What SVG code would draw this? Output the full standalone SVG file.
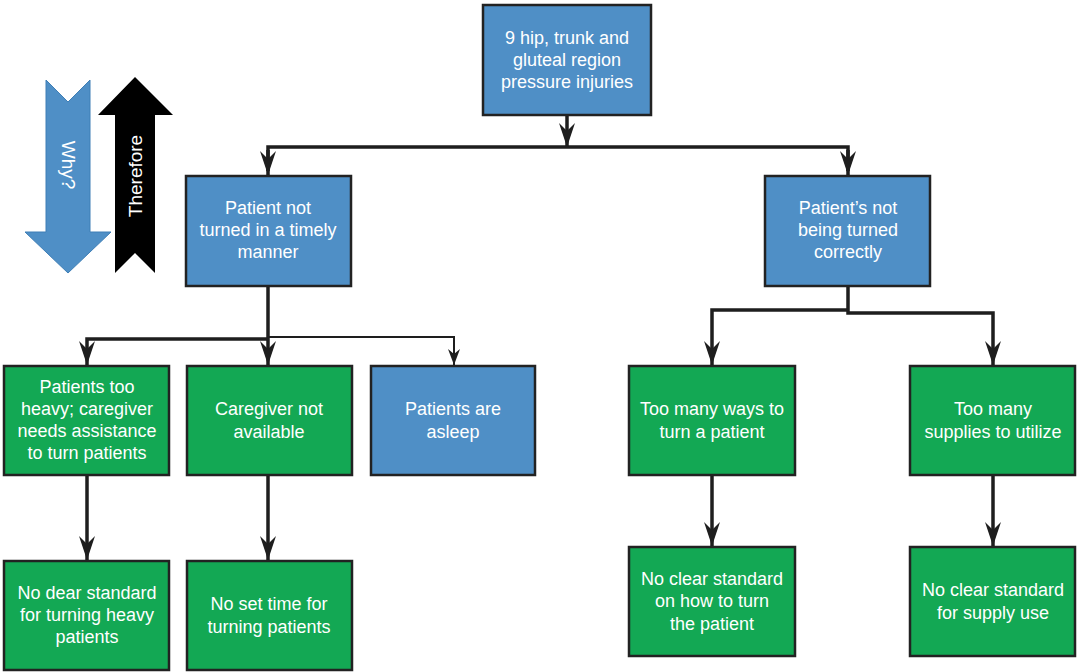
<svg xmlns="http://www.w3.org/2000/svg" width="1078" height="672" viewBox="0 0 1078 672">
<defs>
<style>
.blue{fill:#4f8fc6;stroke:#222;stroke-width:2.5}
.green{fill:#13a854;stroke:#222;stroke-width:2.5}
.t{font-family:"Liberation Sans",Arial,sans-serif;font-size:18px;fill:#fff;text-anchor:middle}
.big{font-size:19px}
.c{fill:none;stroke:#1e1e1e;stroke-width:3.5}
.c2{fill:none;stroke:#1e1e1e;stroke-width:2}
</style>
<marker id="ahd" markerWidth="16" markerHeight="24" refX="8" refY="24" orient="0" markerUnits="userSpaceOnUse" viewBox="0 0 16 24">
<path d="M0,0 L8,8 L16,0 L8,24 Z" fill="#1e1e1e"/>
</marker>
<marker id="ahs" markerWidth="12" markerHeight="16" refX="6" refY="16" orient="0" markerUnits="userSpaceOnUse" viewBox="0 0 12 16">
<path d="M0,0 L6,5 L12,0 L6,16 Z" fill="#1e1e1e"/>
</marker>
</defs>

<g id="legend">
<path d="M46,80 L68,102 L90,80 L90,232 L111,232 L68,273 L25,232 L46,232 Z" fill="#4f8fc6" stroke="#3f7fb6" stroke-width="1"/>
<text class="t big" transform="translate(68,165) rotate(90)" dy="6">Why?</text>
<path d="M135,77 L173,115 L155,115 L155,273 L135,253 L115,273 L115,115 L98,115 Z" fill="#000"/>
<text class="t big" transform="translate(136,176) rotate(-90)" dy="6">Therefore</text>
</g>

<g id="connectors">
<path class="c" d="M567,115 L567,147" marker-end="url(#ahd)"/>
<path class="c" d="M268,171 L268,147 L848,147 L848,171"/>
<path class="c" d="M268,150 L268,175" marker-end="url(#ahd)"/>
<path class="c" d="M848,150 L848,175" marker-end="url(#ahd)"/>
<path class="c" d="M268,286 L268,365" marker-end="url(#ahd)"/>
<path class="c" d="M268,339 L87,339 L87,365" marker-end="url(#ahd)"/>
<path class="c2" d="M268,337 L454,337 L454,365" marker-end="url(#ahs)"/>
<path class="c" d="M848,286 L848,313 L993,313 L993,365" marker-end="url(#ahd)"/>
<path class="c" d="M848,310 L712,310 L712,365" marker-end="url(#ahd)"/>
<path class="c" d="M87,475 L87,560" marker-end="url(#ahd)"/>
<path class="c" d="M268,475 L268,560" marker-end="url(#ahd)"/>
<path class="c" d="M712,475 L712,546" marker-end="url(#ahd)"/>
<path class="c" d="M993,475 L993,546" marker-end="url(#ahd)"/>
</g>

<g id="root">
<rect class="blue" x="483" y="5" width="168" height="110"/>
<text class="t" x="567" y="44">9 hip, trunk and</text>
<text class="t" x="567" y="66">gluteal region</text>
<text class="t" x="567" y="88">pressure injuries</text>
</g>

<g id="n_timely">
<rect class="blue" x="186" y="176" width="165" height="110"/>
<text class="t" x="268" y="214">Patient not</text>
<text class="t" x="268" y="236">turned in a timely</text>
<text class="t" x="268" y="258">manner</text>
</g>

<g id="n_correctly">
<rect class="blue" x="765" y="176" width="165" height="110"/>
<text class="t" x="848" y="214">Patient’s not</text>
<text class="t" x="848" y="236">being turned</text>
<text class="t" x="848" y="258">correctly</text>
</g>

<g id="n_heavy">
<rect class="green" x="4" y="366" width="165" height="109"/>
<text class="t" x="87" y="393">Patients too</text>
<text class="t" x="87" y="415">heavy; caregiver</text>
<text class="t" x="87" y="437">needs assistance</text>
<text class="t" x="87" y="459">to turn patients</text>
</g>

<g id="n_caregiver">
<rect class="green" x="187" y="366" width="165" height="109"/>
<text class="t" x="269" y="415">Caregiver not</text>
<text class="t" x="269" y="438">available</text>
</g>

<g id="n_asleep">
<rect class="blue" x="371" y="366" width="164" height="109"/>
<text class="t" x="453" y="415">Patients are</text>
<text class="t" x="453" y="438">asleep</text>
</g>

<g id="n_ways">
<rect class="green" x="629" y="366" width="166" height="109"/>
<text class="t" x="712" y="415">Too many ways to</text>
<text class="t" x="712" y="438">turn a patient</text>
</g>

<g id="n_supplies">
<rect class="green" x="910" y="366" width="165" height="109"/>
<text class="t" x="993" y="415">Too many</text>
<text class="t" x="993" y="438">supplies to utilize</text>
</g>

<g id="n_dear">
<rect class="green" x="4" y="561" width="165" height="109"/>
<text class="t" x="87" y="599">No dear standard</text>
<text class="t" x="87" y="621">for turning heavy</text>
<text class="t" x="87" y="643">patients</text>
</g>

<g id="n_settime">
<rect class="green" x="187" y="561" width="165" height="109"/>
<text class="t" x="269" y="610">No set time for</text>
<text class="t" x="269" y="633">turning patients</text>
</g>

<g id="n_howto">
<rect class="green" x="629" y="547" width="166" height="109"/>
<text class="t" x="712" y="585">No clear standard</text>
<text class="t" x="712" y="607">on how to turn</text>
<text class="t" x="712" y="630">the patient</text>
</g>

<g id="n_supplyuse">
<rect class="green" x="910" y="547" width="165" height="109"/>
<text class="t" x="993" y="596">No clear standard</text>
<text class="t" x="993" y="619">for supply use</text>
</g>
</svg>
